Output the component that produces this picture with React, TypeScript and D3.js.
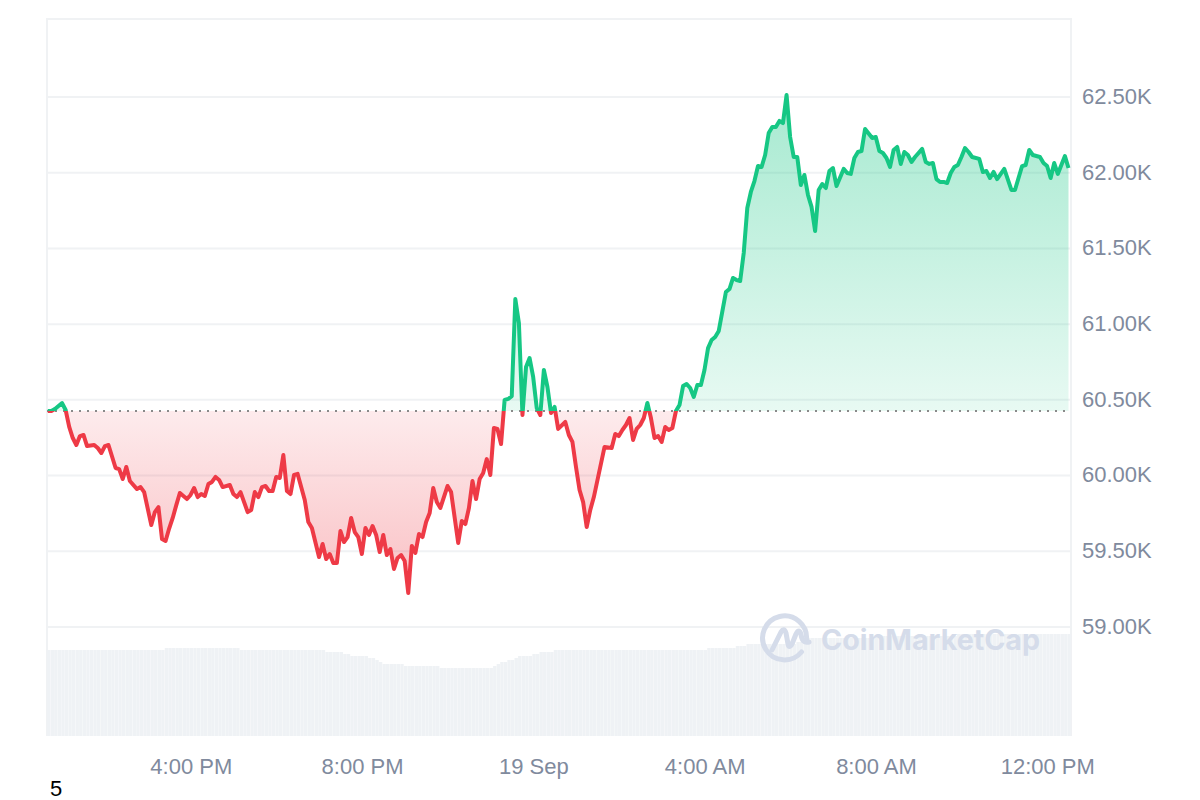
import React from "react";
import * as d3 from "d3";

// 5-minute steps since the start of the window (12:39 PM, 18 Sep)
const steps = [
  0,1,2,4,5,6,7,8,9,10,11,13,14,15,16,17,19,20,21,22,23,25,26,27,29,30,31,32,33,34,35,36,37,39,40,41,42,43,44,45,46,47,48,49,51,52,53,54,56,57,58,59,60,61,62,63,64,65,66,67,68,69,70,
  72,73,74,76,77,78,79,80,81,82,83,84,85,86,87,88,89,90,91,92,93,94,95,96,97,98,99,100,101,102,103,104,105,106,107,108,109,110,112,113,115,116,117,118,119,120,121,122,123,124,125,126,127,
  128,129,130,131,132,133,134,135,136,137,138,139,140,141,142,143,145,146,147,148,149,150,151,152,153,156,158,159,160,161,162,163,164,165,166,167,168,169,170,171,172,173,174,175,176,177,178,179,180,181,182,183,184,185,186,187,188,190,191,
  192,193,194,195,196,197,198,199,200,201,202,203,204,205,206,207,208,209,210,211,212,213,214,215,216,217,218,219,220,221,223,224,225,226,227,228,229,231,232,233,234,235,236,237,238,239,240,241,242,243,245,246,247,248,249,250,251,252,253,254,255,256,257,258,259,261,262,263,264,265,266,268,270,271,273,274,275,276,278,279,280,281,282,283,285,286,
];

const prices = [
  60426,60426,60440,60479,60433,60321,60248,60202,60261,60268,60195,60202,60182,60149,60195,60202,60050,60043,59977,60057,59964,59911,59924,59891,59673,59759,59792,59581,59568,59650,59720,59805,59885,59845,59872,59918,59858,59878,59865,59944,59958,59991,59971,59924,59938,59878,59858,59891,59759,59773,59891,59858,59924,59931,59898,59898,59991,59984,60136,59898,59878,60004,60011,
  59839,59693,59654,59462,59548,59449,59482,59423,59423,59634,59561,59594,59720,59627,59594,59482,59654,59608,59667,59608,59495,59608,59475,59515,59383,59456,59475,59436,59224,59535,59489,59614,59594,59693,59753,59918,59825,59786,59931,59891,59555,59700,59680,59786,59964,59845,59977,60017,60109,60004,60314,60308,60208,
  60499,60506,60525,61166,61008,60400,60717,60776,60651,60446,60400,60697,60585,60413,60453,60308,60354,60268,60222,60057,59905,59825,59660,59773,59858,60189,60182,60275,60261,60301,60334,60380,60235,60308,60334,60380,60479,60380,60248,60261,60222,60321,60301,60314,60426,60466,60591,60605,60578,60519,60598,60598,60697,60842,60895,60915,60955,61212,61232,
  61305,61291,61285,61470,61767,61873,61945,62044,62038,62117,62262,62302,62302,62342,62328,62513,62236,62104,62104,61919,61985,61853,61774,61615,61886,61925,61899,62011,62031,61912,62025,61998,61992,62097,62137,62143,62289,62229,62236,62143,62130,62097,62038,62150,62170,62058,62137,62117,62071,62104,62157,62071,62058,62064,61958,61939,61939,61932,61998,62038,62051,62104,62163,62137,62104,62091,62005,62011,61965,62005,61958,62025,61886,61886,62044,62051,62150,62117,62104,62064,62044,61965,62064,61992,62110,62031,
];

const basePrice = 60426;
const priceTicks = [59000, 59500, 60000, 60500, 61000, 61500, 62000, 62500];
const timeTickMinutes = [201, 441, 681, 921, 1161, 1401];
const timeTickLabels = ["4:00 PM", "8:00 PM", "19 Sep", "4:00 AM", "8:00 AM", "12:00 PM"];

// Volume ($B, relative) as levels and how many 5-minute bars hold each level
const volumeLevels = [34.4,35.2,34.4,33.6,32.8,32,31.2,30.4,29.6,28.8,28,27.2,28,28.8,29.6,30.4,31.2,32,32.8,33.6,34.4,35.2,36,36.8,37.6,39.2,40,40.8];
const volumeCounts = [33,21,24,5,2,5,2,1,1,6,10,15,1,1,2,2,1,4,2,4,43,8,3,14,3,20,22,32];
const volumes: number[] = volumeLevels.flatMap((v, i) => d3.range(volumeCounts[i]).map(() => v));

const GREEN = "#16c784";
const RED = "#ee3a46";
const GREY = "#808a9d";
const FRAME = "#f0f2f4";
const FONT = "'Liberation Sans', Arial, sans-serif";

const data = steps.map((s, i) => ({ minute: s * 5, price: prices[i] }));

const x = d3.scaleLinear().domain([0, 1430]).range([47.8, 1068.5]);
const y = d3.scaleLinear().domain([59000, 62500]).range([627, 97]);
const yVol = d3.scaleLinear().domain([0, 40]).range([736, 636]);

export default function App() {
  const baseY = y(basePrice);
  const line = d3.line<(typeof data)[number]>().x((d) => x(d.minute)).y((d) => y(d.price));
  const area = d3
    .area<(typeof data)[number]>()
    .x((d) => x(d.minute))
    .y0(baseY)
    .y1((d) => y(d.price));
  const barStep = x(5) - x(0);
  return (
    <svg
      width={1200}
      height={800}
      viewBox="0 0 1200 800"
      style={{ position: "absolute", left: 0, top: 0, display: "block", background: "#fff" }}
    >
      <defs>
        <clipPath id="above">
          <rect x={0} y={0} width={1200} height={baseY} />
        </clipPath>
        <clipPath id="below">
          <rect x={0} y={baseY} width={1200} height={800 - baseY} />
        </clipPath>
        <linearGradient id="gGreen" gradientUnits="userSpaceOnUse" x1={0} x2={0} y1={95} y2={baseY}>
          <stop offset="0" stopColor={GREEN} stopOpacity={0.38} />
          <stop offset="1" stopColor={GREEN} stopOpacity={0.1} />
        </linearGradient>
        <linearGradient id="gRed" gradientUnits="userSpaceOnUse" x1={0} x2={0} y1={baseY} y2={593}>
          <stop offset="0" stopColor={RED} stopOpacity={0.1} />
          <stop offset="1" stopColor={RED} stopOpacity={0.32} />
        </linearGradient>
      </defs>

      {/* frame and grid */}
      <path d={`M47,736V19H1071V736`} fill="none" stroke={FRAME} strokeWidth={2} />
      {priceTicks.map((t) => (
        <line key={t} x1={47} x2={1071} y1={y(t)} y2={y(t)} stroke={FRAME} strokeWidth={2} />
      ))}

      {/* volume bars */}
      {volumes.map((v, i) => (
        <rect
          key={i}
          x={x(i * 5) - 0.8}
          y={yVol(v)}
          width={barStep - 0.2}
          height={yVol(0) - yVol(v)}
          fill="#eff2f5"
        />
      ))}

      {/* areas */}
      <path d={area(data) ?? ""} fill="url(#gGreen)" clipPath="url(#above)" />
      <path d={area(data) ?? ""} fill="url(#gRed)" clipPath="url(#below)" />

      {/* baseline */}
      <line x1={47} x2={1068} y1={baseY} y2={baseY} stroke="#8a8a8a" strokeWidth={2} strokeDasharray="2 6" />

      {/* price line */}
      <path d={line(data) ?? ""} fill="none" stroke={GREEN} strokeWidth={4} strokeLinejoin="round" clipPath="url(#above)" />
      <path d={line(data) ?? ""} fill="none" stroke={RED} strokeWidth={4} strokeLinejoin="round" clipPath="url(#below)" />

      {/* watermark */}
      <g fill="none" stroke="#d5dcea" strokeWidth={5} strokeLinecap="round" strokeLinejoin="round">
        <path d="M801.5,652 A22,22 0 1 1 806.5,640" />
        <path d="M772,650 L781,632 Q784,627 786,633 L788,644 Q789,649 792,644 L796,634 Q799,628 801,634 Q802,644 809,642" />
      </g>
      <text
        x={821}
        y={650}
        fontFamily="Inter, 'Noto Sans', sans-serif"
        fontWeight={700}
        fontSize={29}
        fill="#d5dcea"
        textLength={219}
        lengthAdjust="spacingAndGlyphs"
      >
        CoinMarketCap
      </text>

      {/* axes text */}
      {priceTicks.map((t) => (
        <text key={t} x={1082} y={y(t) + 6.8} fontFamily={FONT} fontSize={22} fill={GREY}>
          {`${(t / 1000).toFixed(2)}K`}
        </text>
      ))}
      {timeTickMinutes.map((m, i) => (
        <text key={m} x={x(m)} y={774} textAnchor="middle" fontFamily={FONT} fontSize={22} fill={GREY}>
          {timeTickLabels[i]}
        </text>
      ))}
      <text x={50} y={796} fontFamily={FONT} fontSize={22} fill="#000">
        5
      </text>
    </svg>
  );
}
